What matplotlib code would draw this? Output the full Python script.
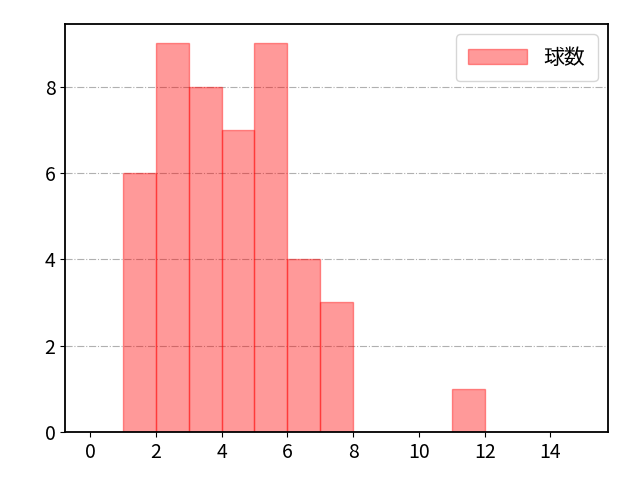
import matplotlib
matplotlib.use('Agg')
import matplotlib.pyplot as plt

plt.rcParams['font.family'] = ['Noto Sans CJK JP', 'DejaVu Sans']

# 球数ごとの件数 (bin 左端, 件数)
bin_edges = list(range(0, 16))
bin_left = [1, 2, 3, 4, 5, 6, 7, 11]
counts = [6, 9, 8, 7, 9, 4, 3, 1]

fig, ax = plt.subplots(figsize=(6.4, 4.8), dpi=100)
fig.subplots_adjust(left=0.102, right=0.95, top=0.95, bottom=0.1)
ax.hist(bin_left, bins=bin_edges, weights=counts, color='red', alpha=0.4,
        edgecolor='red', linewidth=1, label='球数')
ax.grid(axis='y', linestyle='-.', color='#b0b0b0')
ax.set_axisbelow(True)
ax.set_xticks([0, 2, 4, 6, 8, 10, 12, 14])
ax.tick_params(labelsize=14)
ax.legend(fontsize=15, handlelength=2.8, borderpad=0.6)
for s in ax.spines.values():
    s.set_linewidth(1.3)
plt.savefig('out.png')
